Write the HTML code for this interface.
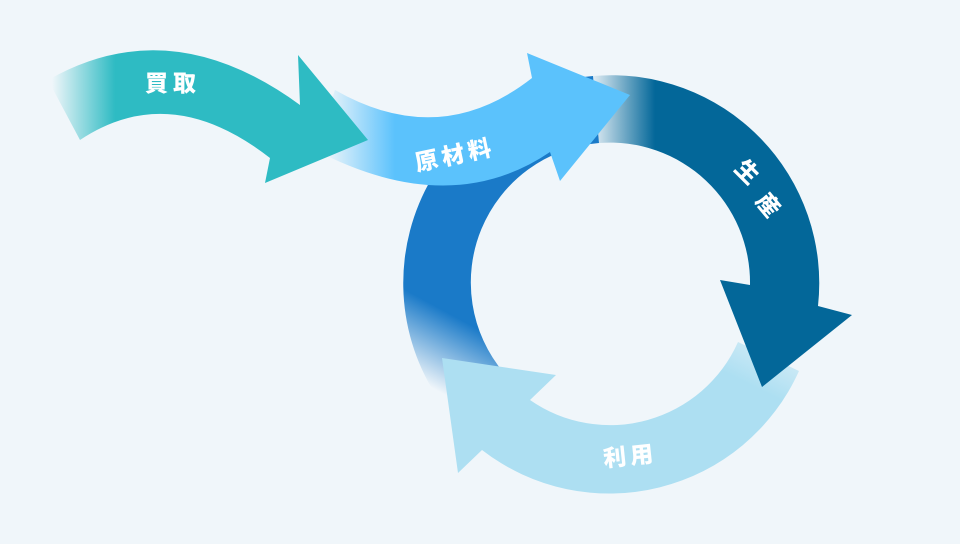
<!DOCTYPE html>
<html><head><meta charset="utf-8"><style>
html,body{margin:0;padding:0;background:#f0f6fa;}
svg{display:block}
text{font-family:"Liberation Sans","Noto Sans CJK JP",sans-serif;font-weight:900;fill:#fff;font-size:23px}
</style></head><body>
<svg width="960" height="544" viewBox="0 0 960 544">
<defs>
<linearGradient id="gb" gradientUnits="userSpaceOnUse" x1="480" y1="330" x2="445" y2="395">
<stop offset="0" stop-color="#1a7ac8"/><stop offset="1" stop-color="#1a7ac8" stop-opacity="0"/></linearGradient>
<linearGradient id="gd" gradientUnits="userSpaceOnUse" x1="592" y1="0" x2="655" y2="0">
<stop offset="0" stop-color="#036799" stop-opacity="0.05"/><stop offset="1" stop-color="#036799"/></linearGradient>
<linearGradient id="gl" gradientUnits="userSpaceOnUse" x1="790" y1="330" x2="760" y2="390">
<stop offset="0" stop-color="#addff2" stop-opacity="0.2"/><stop offset="1" stop-color="#addff2"/></linearGradient>
<linearGradient id="gr" gradientUnits="userSpaceOnUse" x1="325" y1="0" x2="395" y2="0">
<stop offset="0" stop-color="#5bc2fc" stop-opacity="0"/><stop offset="1" stop-color="#5bc2fc"/></linearGradient>
<linearGradient id="gt" gradientUnits="userSpaceOnUse" x1="52" y1="0" x2="115" y2="0">
<stop offset="0" stop-color="#2ebbc3" stop-opacity="0"/><stop offset="1" stop-color="#2ebbc3"/></linearGradient>
</defs>
<path d="M452,417 A208,208 0 0 1 593,76 L599,143 A140,140 0 0 0 504,373 Z" fill="url(#gb)"/>
<path d="M799,371 A208,208 0 0 1 482,450 L458,473 L442,358 L556,375 L530,400 A140,140 0 0 0 738,342 Z" fill="url(#gl)"/>
<path d="M593,76 A208,208 0 0 1 818,306 L852,315 L762,387 L720,280 L750,285 A140,140 0 0 0 599,143 Z" fill="url(#gd)"/>
<path d="M335,90 Q440,150 532,78 L527,53 L630,95 L560,181 L550,152 Q450,220 315,150 Z" fill="url(#gr)"/>
<path d="M48,80 Q170,10 300,105 L298,55 L368,140 L265,183 L270,158 Q170,80 80,140 Z" fill="url(#gt)"/>
<text x="173" y="91" text-anchor="middle" letter-spacing="5">買取</text>
<text x="455" y="163" text-anchor="middle" letter-spacing="4" transform="rotate(-12 455 155)">原材料</text>
<text x="747" y="180" text-anchor="middle" transform="rotate(45 747 172)">生</text>
<text x="768" y="213" text-anchor="middle" transform="rotate(50 768 205)">産</text>
<text x="630" y="464" text-anchor="middle" letter-spacing="4" transform="rotate(-6 630 455)">利用</text>
</svg>
</body></html>
